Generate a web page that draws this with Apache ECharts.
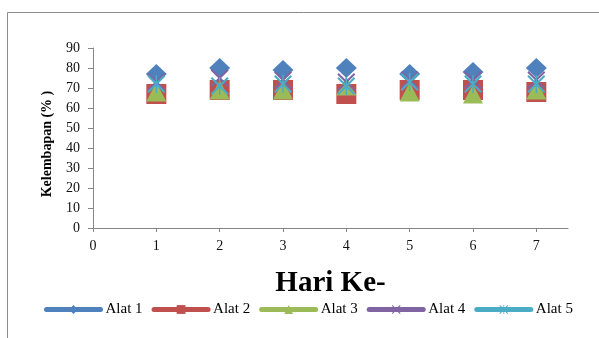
<!DOCTYPE html>
<html>
<head>
<meta charset="utf-8">
<script src="https://cdn.jsdelivr.net/npm/echarts@6/dist/echarts.min.js"></script>
<style>
html,body{margin:0;padding:0;background:#fff;}
#chart{width:599px;height:338px;}
</style>
</head>
<body>
<div id="chart"></div>
<script>
var days = [1, 2, 3, 4, 5, 6, 7];
var xTicks = [0, 1, 2, 3, 4, 5, 6, 7];
var seriesNames = ['Alat 1', 'Alat 2', 'Alat 3', 'Alat 4', 'Alat 5'];
var alat1 = [77, 80, 79, 80, 77, 78, 80];
var alat2 = [67, 69, 69, 67, 69, 69, 68];
var alat3 = [68, 69, 69, 71, 68, 67, 69];
var alat4 = [73, 75, 74, 73, 74, 74, 74];
var alat5 = [72, 71, 72, 71, 73, 72, 72];

var colors = ['#4F81BD', '#C0504D', '#9BBB59', '#8064A2', '#4BACC6'];
var xPath = 'path://M0,8 L8,0 L50,42 L92,0 L100,8 L58,50 L100,92 L92,100 L50,58 L8,100 L0,92 L42,50 Z';
var starPath = 'path://M0,8 L8,0 L50,42 L92,0 L100,8 L58,50 L100,92 L92,100 L50,58 L8,100 L0,92 L42,50 Z M46,0 L54,0 L54,100 L46,100 Z';
var symbols = ['diamond', 'rect', 'triangle', xPath, starPath];
var sizes = [[21, 20], 20, [20, 19], 18, 18];
var allData = [alat1, alat2, alat3, alat4, alat5];

function pairs(vals) {
  return days.map(function (d, i) { return [d, vals[i]]; });
}

var series = allData.map(function (vals, k) {
  return {
    name: seriesNames[k],
    type: 'line',
    data: pairs(vals),
    symbol: symbols[k],
    symbolSize: sizes[k],
    showAllSymbol: true,
    itemStyle: { color: colors[k], opacity: 1 },
    lineStyle: { width: 0, opacity: 0, color: colors[k] },
    z: 2 + k,
    animation: false
  };
});

var font = 'Liberation Serif';
var chart = echarts.init(document.getElementById('chart'), null, { renderer: 'canvas' });
chart.setOption({
  backgroundColor: '#ffffff',
  animation: false,
  color: colors,
  graphic: [{
    type: 'polyline',
    shape: { points: [[7.5, 338], [7.5, 12.5], [599, 12.5]] },
    style: { stroke: '#8c8c8c', lineWidth: 1, fill: null }
  }],
  grid: { left: 93, right: 31, top: 48, bottom: 110 },
  xAxis: {
    type: 'value',
    min: 0, max: 7.5, interval: 1,
    name: 'Hari Ke-',
    nameLocation: 'middle',
    nameGap: 41,
    nameTextStyle: { fontFamily: font, fontSize: 29, fontWeight: 'bold', color: '#000' },
    splitLine: { show: false },
    axisLine: { lineStyle: { color: '#868686', width: 1 } },
    axisTick: { show: true, length: 4, inside: false, customValues: xTicks, lineStyle: { color: '#868686' } },
    axisLabel: { customValues: xTicks, fontFamily: font, fontSize: 14, color: '#111', margin: 11 }
  },
  yAxis: {
    type: 'value',
    min: 0, max: 90, interval: 10,
    name: 'Kelembapan (% )',
    nameLocation: 'middle',
    nameGap: 39,
    nameTextStyle: { fontFamily: font, fontSize: 14, fontWeight: 'bold', color: '#000', padding: [0, 12, 0, 0] },
    splitLine: { show: false },
    axisLine: { show: true, lineStyle: { color: '#868686', width: 1 } },
    axisTick: { show: true, length: 5, lineStyle: { color: '#868686' } },
    axisLabel: { fontFamily: font, fontSize: 14, color: '#111', margin: 13 }
  },
  legend: {
    left: 44, top: 302, padding: 0,
    itemWidth: 54, itemHeight: 11, itemGap: 9,
    textStyle: { fontFamily: font, fontSize: 15, color: '#000' },
    lineStyle: { width: 5, opacity: 1, cap: 'round' },
    data: seriesNames
  },
  series: series
});
</script>
</body>
</html>
